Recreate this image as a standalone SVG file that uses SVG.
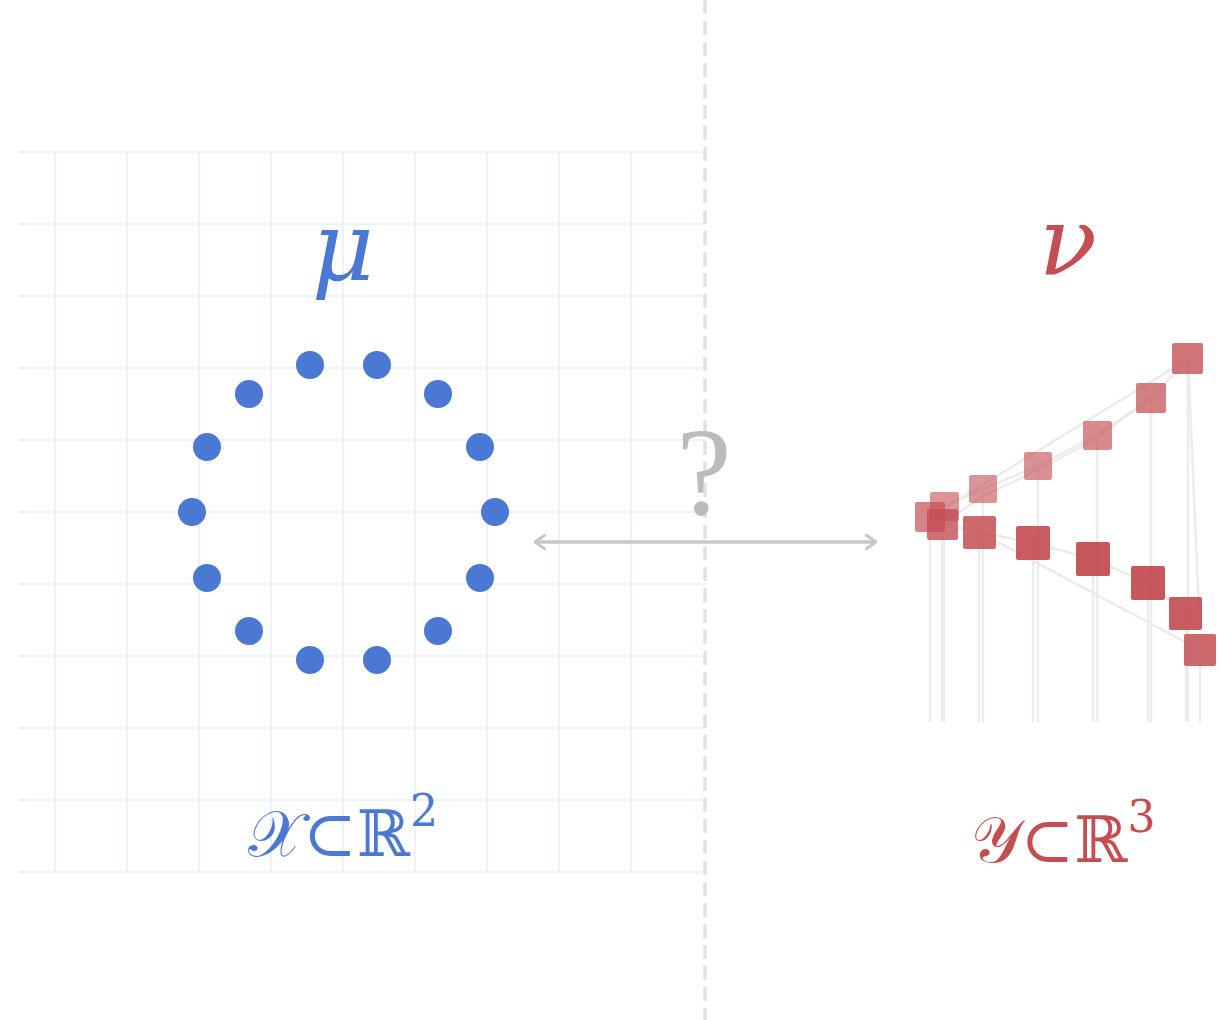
<svg xmlns="http://www.w3.org/2000/svg" width="1220" height="1020" viewBox="0 0 1220 1020">
<style>
.grid line{stroke:#ebf2fc;stroke-width:2}
.pt{fill:#4a78d2}
.sq{fill:#c44e52}
.drop line{stroke:#ececec;stroke-width:2.5}
.edge{stroke:#ebebeb;stroke-width:2.5;fill:none}
.lbl{font-family:"DejaVu Serif","Liberation Serif",serif;font-style:italic}
</style>
<defs>
<marker id="chev" viewBox="0 0 12 16" refX="11" refY="8" markerWidth="12" markerHeight="16" markerUnits="userSpaceOnUse" orient="auto-start-reverse">
<path d="M1,1 L11,8 L1,15" fill="none" stroke="#c8c8c8" stroke-width="3" stroke-linecap="round" stroke-linejoin="round"/>
</marker>
</defs>
<rect width="1220" height="1020" fill="#fff"/>
<g class="grid">
<line x1="19" y1="152" x2="705" y2="152"/><line x1="19" y1="224" x2="705" y2="224"/><line x1="19" y1="296" x2="705" y2="296"/><line x1="19" y1="368" x2="705" y2="368"/><line x1="19" y1="440" x2="705" y2="440"/><line x1="19" y1="512" x2="705" y2="512"/><line x1="19" y1="584" x2="705" y2="584"/><line x1="19" y1="656" x2="705" y2="656"/><line x1="19" y1="728" x2="705" y2="728"/><line x1="19" y1="800" x2="705" y2="800"/><line x1="19" y1="872" x2="705" y2="872"/>
<line x1="55" y1="152" x2="55" y2="872"/><line x1="127" y1="152" x2="127" y2="872"/><line x1="199" y1="152" x2="199" y2="872"/><line x1="271" y1="152" x2="271" y2="872"/><line x1="343" y1="152" x2="343" y2="872"/><line x1="415" y1="152" x2="415" y2="872"/><line x1="487" y1="152" x2="487" y2="872"/><line x1="559" y1="152" x2="559" y2="872"/><line x1="631" y1="152" x2="631" y2="872"/>
</g>
<line x1="705" y1="0" x2="705" y2="1020" stroke="#e2e2e2" stroke-width="3.5" stroke-dasharray="14,7"/>
<g id="source">
<circle class="pt" cx="310" cy="365" r="14"/><circle class="pt" cx="377" cy="365" r="14"/><circle class="pt" cx="438" cy="394" r="14"/><circle class="pt" cx="480" cy="447" r="14"/><circle class="pt" cx="495" cy="512" r="14"/><circle class="pt" cx="480" cy="578" r="14"/><circle class="pt" cx="438" cy="631" r="14"/><circle class="pt" cx="377" cy="660" r="14"/><circle class="pt" cx="310" cy="660" r="14"/><circle class="pt" cx="249" cy="631" r="14"/><circle class="pt" cx="207" cy="578" r="14"/><circle class="pt" cx="192" cy="512" r="14"/><circle class="pt" cx="207" cy="447" r="14"/><circle class="pt" cx="249" cy="394" r="14"/>
</g>
<g id="target">
<g class="drop">
<line x1="930" y1="517" x2="930" y2="722"/><line x1="942" y1="524" x2="942" y2="722"/><line x1="944" y1="506" x2="944" y2="722"/><line x1="979" y1="532" x2="979" y2="722"/><line x1="983" y1="489" x2="983" y2="722"/><line x1="1033" y1="543" x2="1033" y2="722"/><line x1="1038" y1="466" x2="1038" y2="722"/><line x1="1093" y1="559" x2="1093" y2="722"/><line x1="1097" y1="435" x2="1097" y2="722"/><line x1="1148" y1="583" x2="1148" y2="722"/><line x1="1151" y1="398" x2="1151" y2="722"/><line x1="1186" y1="614" x2="1186" y2="722"/><line x1="1188" y1="359" x2="1188" y2="722"/><line x1="1200" y1="650" x2="1200" y2="722"/>
</g>
<polyline class="edge" points="944,506 983,489 1038,466 1097,435 1151,398 1188,359 1199,610"/>
<polyline class="edge" points="942,524 983,496 1038,470 1097,438 1151,398"/>
<polyline class="edge" points="930,517 1188,359"/>
<polyline class="edge" points="942,524 979,532 1033,543 1093,559 1148,583 1186,614"/>
<polyline class="edge" points="979,532 1200,650"/>
<rect class="sq" x="1172" y="343" width="31" height="31" rx="2" opacity="0.78"/>
<rect class="sq" x="1136" y="383" width="30" height="30" rx="2" opacity="0.72"/>
<rect class="sq" x="1083" y="421" width="29" height="29" rx="2" opacity="0.66"/>
<rect class="sq" x="1024" y="452" width="28" height="28" rx="2" opacity="0.62"/>
<rect class="sq" x="969" y="475" width="28" height="28" rx="2" opacity="0.6"/>
<rect class="sq" x="930" y="492" width="29" height="29" rx="2" opacity="0.6"/>
<rect class="sq" x="915" y="502" width="30" height="30" rx="2" opacity="0.7"/>
<rect class="sq" x="927" y="509" width="31" height="31" rx="2" opacity="0.8"/>
<rect class="sq" x="963" y="516" width="33" height="33" rx="2" opacity="0.85"/>
<rect class="sq" x="1016" y="526" width="34" height="34" rx="2" opacity="0.92"/>
<rect class="sq" x="1076" y="542" width="34" height="34" rx="2" opacity="0.95"/>
<rect class="sq" x="1131" y="566" width="34" height="34" rx="2" opacity="0.95"/>
<rect class="sq" x="1169" y="597" width="33" height="33" rx="2" opacity="0.92"/>
<rect class="sq" x="1184" y="634" width="32" height="32" rx="2" opacity="0.85"/>
</g>
<g id="connectors">
<line x1="535" y1="542" x2="876" y2="542" stroke="#c8c8c8" stroke-width="3.5" marker-start="url(#chev)" marker-end="url(#chev)"/>
</g>
<g id="labels">
<text x="343" y="280" text-anchor="middle" class="lbl" font-size="96" fill="#4a78d2">μ</text>
<text x="1068" y="275" text-anchor="middle" class="lbl" font-size="96" fill="#c44e52">ν</text>
<text x="704" y="514" text-anchor="middle" font-family="Liberation Serif,serif" font-size="124" fill="#bbbbbb">?</text>
<text x="343" y="856" text-anchor="middle" font-family="DejaVu Serif,serif" font-size="64" fill="#4a78d2">𝒳⊂ℝ<tspan font-size="44" dy="-30">2</tspan></text>
<text x="1063" y="862" text-anchor="middle" font-family="DejaVu Serif,serif" font-size="64" fill="#c44e52">𝒴⊂ℝ<tspan font-size="44" dy="-30">3</tspan></text>
</g>
</svg>
